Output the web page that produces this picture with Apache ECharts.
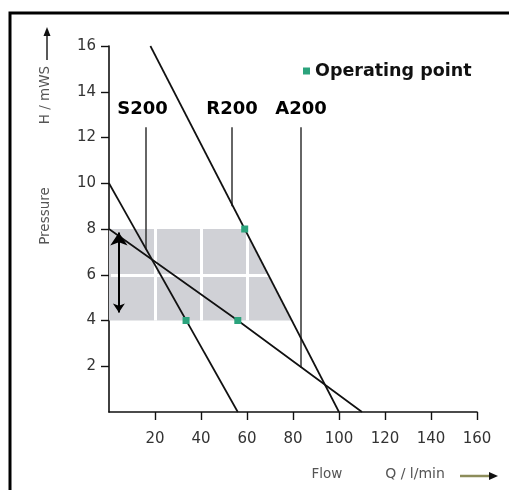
<!DOCTYPE html>
<html>
<head>
<meta charset="utf-8">
<script src="https://cdn.jsdelivr.net/npm/echarts@6/dist/echarts.min.js"></script>
<style>
html,body{margin:0;padding:0;background:#fff;}
#chart{width:509px;height:490px;}
</style>
</head>
<body>
<div id="chart"></div>
<script>
// ---- data ----
const xTicks = [20, 40, 60, 80, 100, 120, 140, 160];
const yTicks = [2, 4, 6, 8, 10, 12, 14, 16];

const s200Flow = [0, 56];
const s200Head = [10, 0];
const r200Flow = [18, 100];
const r200Head = [16, 0];
const a200Flow = [0, 56, 110];
const a200Head = [8, 4, 0];

const opFlow = [33.5, 56, 59];
const opHead = [4, 4, 8];

const curveNames = ['S200', 'R200', 'A200'];
const labelFlow = [14.6, 53.5, 83.5];
const labelHead = 12.85;
const leaderFlow = [16, 53.5, 83.5];
const leaderTop = 12.45;
const leaderBottom = [7.1, 9.0, 1.95];

// operating range (shaded region)
const regionFlow = [0, 59, 79.5, 0];
const regionHead = [8, 8, 4, 4];
const gapFlow = [20, 40, 60];
const gapHeadRange = [4, 8];
const gapHead = [6];
const gapFlowRange = [0.8, 80];

// double arrow (head range)
const arrowFlow = 4.3;
const arrowHead = [4.35, 7.85];

const FONT = 'DejaVu Sans';
const pair = (xs, ys) => xs.map((x, i) => [x, ys[i]]);

const chart = echarts.init(document.getElementById('chart'));

const curveStyle = {color: '#111', width: 1.7};
const series = [];

series.push({
  type: 'custom',
  z: 1,
  silent: true,
  data: pair(regionFlow, regionHead),
  renderItem: function (params, api) {
    if (params.dataIndex !== 0) return;
    const pts = regionFlow.map((f, i) => api.coord([f, regionHead[i]]));
    return {type: 'polygon', shape: {points: pts}, style: {fill: '#d0d1d6'}};
  }
});

const gapData = gapFlow.map(f => ({coords: [[f, gapHeadRange[0]], [f, gapHeadRange[1]]]}))
  .concat(gapHead.map(h => ({coords: [[gapFlowRange[0], h], [gapFlowRange[1], h]]})));
series.push({
  type: 'lines', coordinateSystem: 'cartesian2d', z: 2, silent: true,
  lineStyle: {color: '#fff', width: 3, opacity: 1},
  data: gapData
});

[[s200Flow, s200Head], [r200Flow, r200Head], [a200Flow, a200Head]].forEach(([f, h], i) => {
  series.push({
    type: 'line', name: curveNames[i] + ' curve', z: 5, silent: true,
    symbol: 'none', lineStyle: curveStyle, data: pair(f, h)
  });
});

series.push({
  type: 'lines', coordinateSystem: 'cartesian2d', z: 4, silent: true,
  lineStyle: {color: '#333', width: 1.5, opacity: 1},
  data: leaderFlow.map((f, i) => ({coords: [[f, leaderTop], [f, leaderBottom[i]]]}))
});

series.push({
  type: 'lines', coordinateSystem: 'cartesian2d', z: 6, silent: true,
  symbol: ['arrow', 'arrow'], symbolSize: [9, 13],
  lineStyle: {color: '#000', width: 2, opacity: 1},
  data: [{coords: [[arrowFlow, arrowHead[0]], [arrowFlow, arrowHead[1]]]}]
});

series.push({
  type: 'scatter', z: 7, silent: true,
  symbolSize: 0,
  itemStyle: {opacity: 1},
  data: labelFlow.map((f, i) => ({name: curveNames[i], value: [f, labelHead]})),
  label: {show: true, position: 'top', distance: 0, formatter: '{b}',
    fontFamily: FONT, fontWeight: 'bold', fontSize: 18, color: '#000'}
});

series.push({
  type: 'scatter', name: 'Operating point', z: 8,
  symbol: 'rect', symbolSize: 7,
  itemStyle: {color: '#2ba37c', opacity: 1},
  data: pair(opFlow, opHead)
});

const option = {
  animation: false,
  backgroundColor: '#fff',
  grid: {left: 109, top: 46, width: 368, height: 366},
  legend: {
    data: ['Operating point'], left: 303, top: 62, padding: 0,
    icon: 'rect', itemWidth: 7, itemHeight: 7,
    textStyle: {fontFamily: FONT, fontWeight: 'bold', fontSize: 17.5, color: '#111'},
    selectedMode: false
  },
  xAxis: {
    type: 'value', min: 0, max: 160, interval: 20,
    axisLine: {show: true, lineStyle: {color: '#111', width: 1.6}},
    axisTick: {show: true, length: 8, lineStyle: {color: '#111', width: 1.4}, customValues: xTicks},
    axisLabel: {customValues: xTicks, margin: 20, fontFamily: FONT, fontSize: 15, color: '#333'},
    splitLine: {show: false}
  },
  yAxis: {
    type: 'value', min: 0, max: 16, interval: 2,
    axisLine: {show: true, lineStyle: {color: '#111', width: 1.6}},
    axisTick: {show: true, length: 8, lineStyle: {color: '#111', width: 1.4}, customValues: yTicks},
    axisLabel: {customValues: yTicks, margin: 13, fontFamily: FONT, fontSize: 15, color: '#333'},
    splitLine: {show: false}
  },
  graphic: [
    {type: 'rect', shape: {x: 10, y: 13, width: 560, height: 540},
      style: {fill: 'none', stroke: '#000', lineWidth: 3}, silent: true},
    {type: 'text', x: 45, y: 95, rotation: Math.PI / 2,
      style: {text: 'H / mWS', fontFamily: FONT, fontSize: 13.5, fill: '#555', align: 'center', verticalAlign: 'middle'}},
    {type: 'line', shape: {x1: 47, y1: 60, x2: 47, y2: 34}, style: {stroke: '#222', lineWidth: 1.5}},
    {type: 'polygon', shape: {points: [[47, 27], [43.5, 36], [50.5, 36]]}, style: {fill: '#111'}},
    {type: 'text', x: 45, y: 216, rotation: Math.PI / 2,
      style: {text: 'Pressure', fontFamily: FONT, fontSize: 13.5, fill: '#555', align: 'center', verticalAlign: 'middle'}},
    {type: 'text', x: 327, y: 474,
      style: {text: 'Flow', fontFamily: FONT, fontSize: 13.5, fill: '#555', align: 'center', verticalAlign: 'middle'}},
    {type: 'text', x: 415, y: 474,
      style: {text: 'Q / l/min', fontFamily: FONT, fontSize: 14, fill: '#555', align: 'center', verticalAlign: 'middle'}},
    {type: 'line', shape: {x1: 460, y1: 476, x2: 491, y2: 476}, style: {stroke: '#8c8c5a', lineWidth: 2.5}},
    {type: 'polygon', shape: {points: [[498, 476], [489, 472], [489, 480]]}, style: {fill: '#111'}}
  ],
  series: series
};
chart.setOption(option);
</script>
</body>
</html>
